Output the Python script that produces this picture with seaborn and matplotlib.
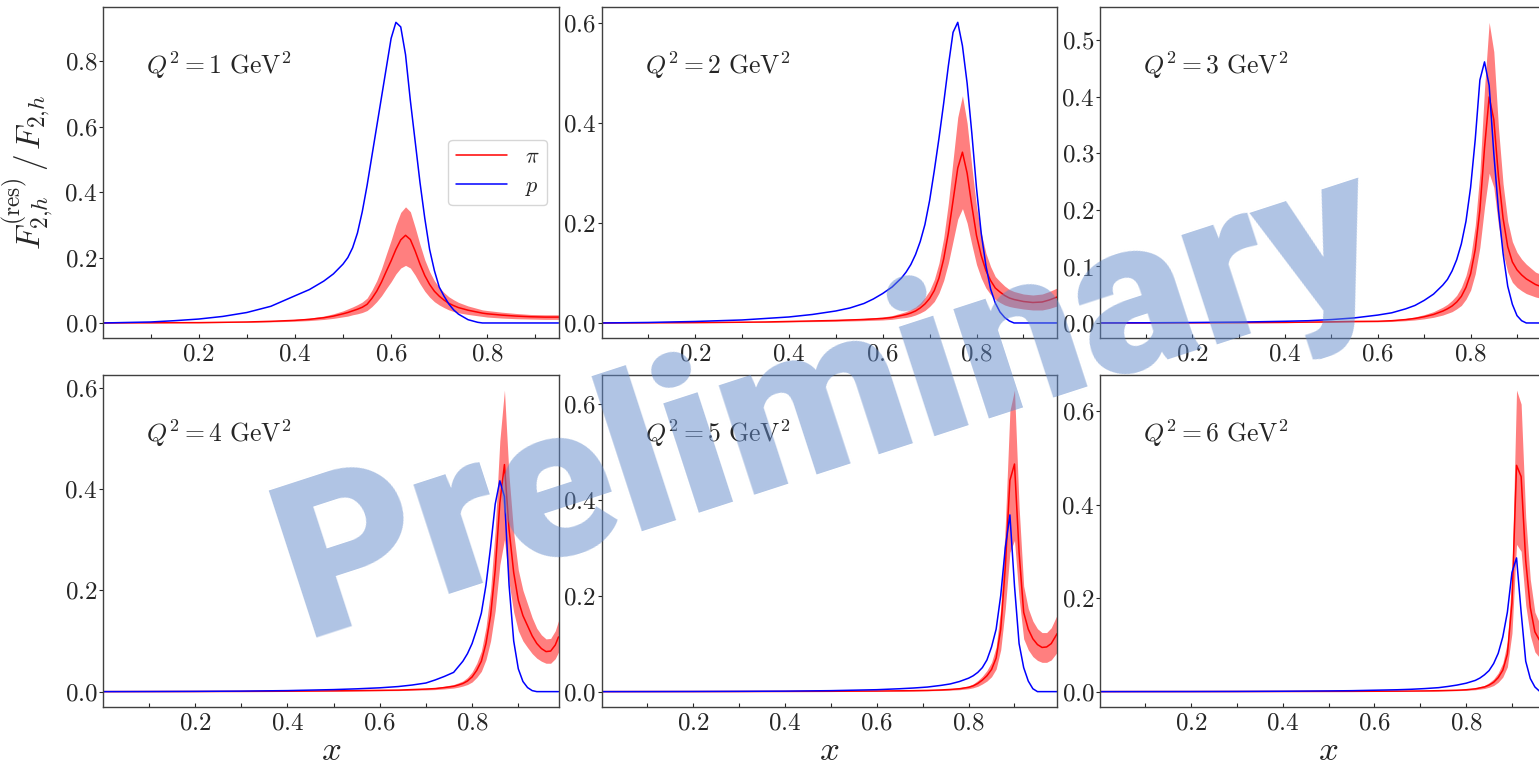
import numpy as np
import pandas as pd
import seaborn as sns
import matplotlib
matplotlib.use("Agg")
import matplotlib.pyplot as plt
from matplotlib.ticker import MultipleLocator

# ---------------- data ----------------
Q2_VALUES = [1, 2, 3, 4, 5, 6]

# Q^2 = 1
X1 = [0.001, 0.05, 0.1, 0.15, 0.2, 0.25, 0.3, 0.35, 0.4, 0.43, 0.46, 0.48,
      0.50, 0.51, 0.52, 0.53, 0.54, 0.55, 0.56, 0.57, 0.58, 0.59, 0.60, 0.61, 0.62, 0.63, 0.64, 0.65, 0.66, 0.67,
      0.68, 0.69, 0.70, 0.71, 0.72, 0.73, 0.74, 0.76, 0.78, 0.79, 0.80, 0.83, 0.86, 0.89, 0.92, 0.948]
P1 = [0.0, 0.0015, 0.003, 0.007, 0.012, 0.02, 0.032, 0.051, 0.083, 0.102, 0.128, 0.15,
      0.18, 0.2, 0.23, 0.275, 0.34, 0.42, 0.51, 0.6, 0.69, 0.78, 0.87, 0.919, 0.905, 0.82, 0.68, 0.555, 0.43, 0.32,
      0.225, 0.16, 0.11, 0.082, 0.058, 0.04, 0.027, 0.01, 0.002, 0.0, 0.0, 0.0, 0.0, 0.0, 0.0, 0.0]
PI1 = [0.0, 0.0003, 0.0005, 0.0008, 0.001, 0.002, 0.003, 0.005, 0.008, 0.011, 0.016, 0.021,
       0.028, 0.032, 0.037, 0.042, 0.048, 0.057, 0.075, 0.097, 0.125, 0.158, 0.19, 0.225, 0.254, 0.268, 0.255, 0.22, 0.18, 0.145,
       0.118, 0.097, 0.082, 0.07, 0.06, 0.053, 0.047, 0.039, 0.033, 0.03, 0.028, 0.024, 0.021, 0.019, 0.018, 0.018]
PI1_LO = [0.0, 0.0002, 0.0003, 0.0005, 0.0007, 0.0013, 0.002, 0.0033, 0.0053, 0.0073, 0.0107, 0.014,
          0.0187, 0.021, 0.025, 0.028, 0.032, 0.038, 0.05, 0.065, 0.083, 0.105, 0.126, 0.15, 0.168, 0.176, 0.168, 0.146, 0.12, 0.097,
          0.079, 0.065, 0.055, 0.047, 0.04, 0.035, 0.031, 0.026, 0.022, 0.02, 0.018, 0.015, 0.013, 0.012, 0.011, 0.011]
PI1_HI = [0.0, 0.0004, 0.0007, 0.0011, 0.0013, 0.0027, 0.004, 0.0067, 0.011, 0.015, 0.021, 0.028,
          0.037, 0.043, 0.049, 0.056, 0.064, 0.076, 0.1, 0.129, 0.166, 0.21, 0.253, 0.3, 0.338, 0.355, 0.34, 0.292, 0.24, 0.193,
          0.157, 0.129, 0.109, 0.093, 0.08, 0.071, 0.063, 0.052, 0.044, 0.04, 0.038, 0.033, 0.029, 0.026, 0.025, 0.025]

# Q^2 = 2
X2 = [0.001, 0.1, 0.2, 0.3, 0.35, 0.4, 0.45, 0.5, 0.53, 0.56, 0.58, 0.60, 0.62, 0.64,
      0.65, 0.66, 0.67, 0.68, 0.69, 0.70, 0.71, 0.72, 0.73, 0.74, 0.75, 0.76, 0.77, 0.78, 0.79, 0.80, 0.81, 0.82,
      0.83, 0.84, 0.85, 0.86, 0.87, 0.88, 0.90, 0.92, 0.94, 0.955, 0.972]
P2 = [0.0, 0.001, 0.003, 0.006, 0.009, 0.012, 0.017, 0.024, 0.03, 0.039, 0.048, 0.059, 0.072, 0.09,
      0.102, 0.117, 0.137, 0.163, 0.197, 0.245, 0.305, 0.37, 0.44, 0.515, 0.582, 0.602, 0.555, 0.48, 0.38, 0.27, 0.18, 0.115,
      0.068, 0.04, 0.022, 0.011, 0.004, 0.0, 0.0, 0.0, 0.0, 0.0, 0.0]
PI2 = [0.0, 0.0003, 0.0008, 0.0015, 0.002, 0.003, 0.004, 0.005, 0.006, 0.007, 0.008, 0.009, 0.011, 0.015,
       0.017, 0.02, 0.024, 0.03, 0.038, 0.049, 0.065, 0.09, 0.128, 0.18, 0.245, 0.31, 0.342, 0.3, 0.235, 0.175, 0.135, 0.105,
       0.085, 0.07, 0.062, 0.055, 0.05, 0.047, 0.043, 0.041, 0.042, 0.046, 0.052]
PI2_LO = [0.0, 0.0002, 0.0005, 0.001, 0.0013, 0.002, 0.0027, 0.0033, 0.004, 0.0047, 0.0053, 0.006, 0.0073, 0.01,
          0.011, 0.013, 0.016, 0.02, 0.025, 0.033, 0.043, 0.06, 0.085, 0.12, 0.164, 0.208, 0.229, 0.2, 0.157, 0.117, 0.09, 0.07,
          0.057, 0.047, 0.041, 0.036, 0.033, 0.031, 0.028, 0.026, 0.026, 0.029, 0.034]
PI2_HI = [0.0, 0.0004, 0.0011, 0.002, 0.0027, 0.004, 0.0053, 0.0067, 0.008, 0.0093, 0.0107, 0.012, 0.0147, 0.02,
          0.023, 0.027, 0.032, 0.04, 0.051, 0.065, 0.087, 0.12, 0.17, 0.24, 0.326, 0.412, 0.455, 0.4, 0.313, 0.233, 0.18, 0.14,
          0.113, 0.093, 0.083, 0.074, 0.067, 0.063, 0.058, 0.056, 0.058, 0.063, 0.07]

# Q^2 = 3
X3 = [0.001, 0.1, 0.2, 0.3, 0.4, 0.45, 0.5, 0.55, 0.6, 0.63, 0.66, 0.68, 0.70, 0.72, 0.74,
      0.75, 0.76, 0.77, 0.78, 0.79, 0.80, 0.81, 0.82, 0.83, 0.84, 0.85, 0.86, 0.87, 0.88, 0.89, 0.90, 0.91, 0.92,
      0.94, 0.96, 0.983]
P3 = [0.0, 0.0003, 0.0008, 0.0015, 0.003, 0.004, 0.006, 0.009, 0.014, 0.018, 0.025, 0.031, 0.04, 0.051, 0.067,
      0.077, 0.092, 0.112, 0.14, 0.18, 0.24, 0.325, 0.43, 0.462, 0.42, 0.3, 0.2, 0.123, 0.065, 0.033, 0.013, 0.004, 0.0,
      0.0, 0.0, 0.0]
PI3 = [0.0, 0.0001, 0.0003, 0.0006, 0.001, 0.0015, 0.002, 0.0027, 0.003, 0.004, 0.006, 0.008, 0.011, 0.015, 0.021,
       0.025, 0.03, 0.037, 0.047, 0.063, 0.087, 0.13, 0.2, 0.31, 0.40, 0.36, 0.26, 0.185, 0.135, 0.108, 0.094, 0.085, 0.078,
       0.068, 0.062, 0.058]
PI3_LO = [0.0, 0.0001, 0.0002, 0.0004, 0.0007, 0.001, 0.0013, 0.0018, 0.002, 0.0027, 0.004, 0.0053, 0.0073, 0.01, 0.014,
          0.017, 0.02, 0.025, 0.031, 0.042, 0.058, 0.087, 0.134, 0.205, 0.265, 0.24, 0.173, 0.124, 0.09, 0.072, 0.063, 0.057, 0.052,
          0.046, 0.042, 0.039]
PI3_HI = [0.0, 0.00013, 0.0004, 0.0008, 0.0013, 0.002, 0.0027, 0.0036, 0.004, 0.0053, 0.008, 0.0107, 0.0147, 0.02, 0.028,
          0.033, 0.04, 0.049, 0.063, 0.084, 0.116, 0.173, 0.266, 0.415, 0.532, 0.48, 0.346, 0.246, 0.18, 0.144, 0.125, 0.113, 0.104,
          0.09, 0.083, 0.077]

# Q^2 = 4
X4 = [0.001, 0.1, 0.2, 0.3, 0.4, 0.5, 0.55, 0.6, 0.64, 0.67, 0.70, 0.72, 0.74, 0.76,
      0.77, 0.78, 0.79, 0.80, 0.81, 0.82, 0.83, 0.84, 0.85, 0.86, 0.87, 0.88, 0.89, 0.90, 0.91, 0.92, 0.93, 0.94,
      0.95, 0.96, 0.97, 0.98, 0.987]
P4 = [0.0, 0.0002, 0.0005, 0.001, 0.002, 0.004, 0.0055, 0.0075, 0.01, 0.013, 0.017, 0.023, 0.03, 0.038,
      0.049, 0.06, 0.075, 0.095, 0.123, 0.155, 0.21, 0.285, 0.37, 0.416, 0.385, 0.21, 0.1, 0.045, 0.02, 0.008, 0.002, 0.0,
      0.0, 0.0, 0.0, 0.0, 0.0]
PI4 = [0.0, 0.0001, 0.0002, 0.0004, 0.0008, 0.0015, 0.002, 0.0025, 0.003, 0.004, 0.005, 0.006, 0.008, 0.0105,
       0.013, 0.016, 0.021, 0.029, 0.042, 0.06, 0.095, 0.15, 0.24, 0.372, 0.448, 0.32, 0.235, 0.18, 0.15, 0.13, 0.11, 0.095,
       0.085, 0.079, 0.08, 0.092, 0.108]
PI4_LO = [0.0, 0.0001, 0.00013, 0.0003, 0.0005, 0.001, 0.0013, 0.0017, 0.002, 0.0027, 0.0033, 0.004, 0.0053, 0.007,
          0.0087, 0.011, 0.014, 0.019, 0.028, 0.04, 0.063, 0.1, 0.16, 0.25, 0.30, 0.215, 0.157, 0.12, 0.1, 0.087, 0.075, 0.066,
          0.06, 0.056, 0.056, 0.065, 0.078]
PI4_HI = [0.0, 0.00013, 0.0003, 0.0005, 0.0011, 0.002, 0.0027, 0.0033, 0.004, 0.0053, 0.0067, 0.008, 0.0107, 0.014,
          0.0173, 0.021, 0.028, 0.039, 0.056, 0.08, 0.127, 0.2, 0.32, 0.495, 0.595, 0.425, 0.313, 0.24, 0.2, 0.173, 0.146, 0.125,
          0.112, 0.104, 0.105, 0.12, 0.14]

# Q^2 = 5
X5 = [0.001, 0.1, 0.2, 0.3, 0.4, 0.5, 0.55, 0.6, 0.65, 0.68, 0.71, 0.74, 0.76, 0.78,
      0.80, 0.81, 0.82, 0.83, 0.84, 0.85, 0.86, 0.87, 0.88, 0.89, 0.90, 0.91, 0.92, 0.93, 0.94, 0.95, 0.96, 0.97, 0.98,
      0.993]
P5 = [0.0, 0.0001, 0.0003, 0.0006, 0.001, 0.002, 0.003, 0.004, 0.006, 0.0075, 0.0095, 0.013, 0.016, 0.021,
      0.028, 0.033, 0.04, 0.05, 0.066, 0.093, 0.13, 0.2, 0.3, 0.368, 0.22, 0.1, 0.05, 0.022, 0.006, 0.0, 0.0, 0.0, 0.0,
      0.0]
PI5 = [0.0, 0.0001, 0.0001, 0.0002, 0.0004, 0.0007, 0.001, 0.0012, 0.0017, 0.002, 0.0025, 0.0035, 0.0045, 0.006,
       0.009, 0.012, 0.017, 0.024, 0.033, 0.046, 0.07, 0.13, 0.26, 0.44, 0.474, 0.29, 0.165, 0.13, 0.11, 0.098, 0.092, 0.093, 0.1,
       0.121]
PI5_LO = [0.0, 0.0001, 0.0001, 0.00013, 0.0003, 0.0005, 0.0007, 0.0008, 0.0011, 0.0013, 0.0017, 0.0023, 0.003, 0.004,
          0.006, 0.008, 0.011, 0.016, 0.022, 0.031, 0.047, 0.087, 0.173, 0.29, 0.315, 0.195, 0.11, 0.087, 0.073, 0.065, 0.061, 0.061, 0.066,
          0.082]
PI5_HI = [0.0, 0.00013, 0.00013, 0.0003, 0.0005, 0.0009, 0.0013, 0.0016, 0.0023, 0.0027, 0.0033, 0.0047, 0.006, 0.008,
          0.012, 0.016, 0.023, 0.032, 0.044, 0.061, 0.093, 0.173, 0.347, 0.585, 0.628, 0.385, 0.22, 0.173, 0.147, 0.131, 0.123, 0.123, 0.133,
          0.16]

# Q^2 = 6
X6 = [0.001, 0.1, 0.2, 0.3, 0.4, 0.5, 0.55, 0.6, 0.65, 0.68, 0.71, 0.74, 0.76, 0.78, 0.80,
      0.82, 0.83, 0.84, 0.85, 0.86, 0.87, 0.88, 0.89, 0.90, 0.91, 0.92, 0.93, 0.94, 0.95, 0.96, 0.97, 0.98,
      0.995]
P6 = [0.0, 0.0001, 0.0002, 0.0004, 0.0008, 0.0015, 0.002, 0.003, 0.004, 0.005, 0.0065, 0.0085, 0.011, 0.014, 0.018,
      0.024, 0.029, 0.036, 0.045, 0.06, 0.082, 0.117, 0.17, 0.255, 0.286, 0.17, 0.065, 0.028, 0.01, 0.001, 0.0, 0.0,
      0.0]
PI6 = [0.0, 0.0001, 0.0001, 0.0002, 0.0003, 0.0005, 0.0006, 0.0008, 0.001, 0.0012, 0.0015, 0.002, 0.0025, 0.003, 0.004,
       0.006, 0.008, 0.01, 0.014, 0.02, 0.03, 0.046, 0.08, 0.19, 0.484, 0.46, 0.28, 0.18, 0.128, 0.11, 0.1, 0.1,
       0.12]
PI6_LO = [0.0, 0.0001, 0.0001, 0.00013, 0.0002, 0.0003, 0.0004, 0.0005, 0.0007, 0.0008, 0.001, 0.0013, 0.0017, 0.002, 0.0027,
          0.004, 0.0053, 0.0067, 0.0093, 0.013, 0.02, 0.031, 0.053, 0.125, 0.315, 0.3, 0.185, 0.12, 0.085, 0.073, 0.066, 0.066,
          0.08]
PI6_HI = [0.0, 0.00013, 0.00013, 0.0003, 0.0004, 0.0007, 0.0008, 0.0011, 0.0013, 0.0016, 0.002, 0.0027, 0.0033, 0.004, 0.0053,
          0.008, 0.0107, 0.0133, 0.019, 0.027, 0.04, 0.061, 0.106, 0.25, 0.645, 0.615, 0.373, 0.24, 0.17, 0.147, 0.133, 0.133,
          0.16]

Y_TICK_STEP = [0.2, 0.2, 0.1, 0.2, 0.2, 0.2]
LEGEND_LABELS = [r"$\pi$", r"$p$"]
Y_LABEL = r"$F_{2{,}h}^{(\mathrm{res})}\,/\,F_{2{,}h}$"
X_LABEL = r"$x$"
WATERMARK = "Preliminary"

PANELS = [
    (X1, P1, PI1, PI1_LO, PI1_HI),
    (X2, P2, PI2, PI2_LO, PI2_HI),
    (X3, P3, PI3, PI3_LO, PI3_HI),
    (X4, P4, PI4, PI4_LO, PI4_HI),
    (X5, P5, PI5, PI5_LO, PI5_HI),
    (X6, P6, PI6, PI6_LO, PI6_HI),
]

# ---------------- style ----------------
sns.set_style("ticks")
plt.rcParams.update({
    "font.family": "serif",
    "font.serif": ["cmr10"],
    "mathtext.fontset": "cm",
    "axes.formatter.use_mathtext": True,
    "axes.unicode_minus": False,
})

W, H = 1539, 765
fig = plt.figure(figsize=(W / 100, H / 100), dpi=100)
fig.patch.set_facecolor("white")

col_left = [103.0, 601.7, 1100.0]
ax_w = 455.5
row_tb = [(7.3, 338.0), (375.0, 706.7)]

for i, (q2, (x, p, pi, lo, hi)) in enumerate(zip(Q2_VALUES, PANELS)):
    r, c = divmod(i, 3)
    top, bot = row_tb[r]
    ax = fig.add_axes([col_left[c] / W, 1 - bot / H, ax_w / W, (bot - top) / H])
    df = pd.DataFrame({"x": x, "p": p, "pi": pi, "lo": lo, "hi": hi})

    ax.fill_between(df["x"], df["lo"], df["hi"], color="red", alpha=0.5, lw=0)
    sns.lineplot(data=df, x="x", y="pi", ax=ax, color="red", lw=1.1, legend=False,
                 label=LEGEND_LABELS[0], estimator=None)
    sns.lineplot(data=df, x="x", y="p", ax=ax, color="blue", lw=1.1, legend=False,
                 label=LEGEND_LABELS[1], estimator=None)

    ax.set_xlim(x[0], x[-1])
    ax.margins(y=0.05)
    ax.autoscale(axis="y")

    ax.xaxis.set_major_locator(MultipleLocator(0.2))
    ax.xaxis.set_minor_locator(MultipleLocator(0.1))
    ax.yaxis.set_major_locator(MultipleLocator(Y_TICK_STEP[i]))
    ax.tick_params(axis="x", which="both", direction="in", length=3.0, width=0.8,
                   labelsize=18, pad=4, bottom=True, top=False)
    ax.tick_params(axis="y", which="major", direction="out", length=3.0, width=0.8,
                   labelsize=18, pad=1, left=True, right=False)
    for sp in ax.spines.values():
        sp.set_linewidth(1.0)
        sp.set_color("0.25")

    ax.set_xlabel("")
    ax.set_ylabel("")
    ax.text(0.095, 0.825, rf"$Q^2 = {q2}\ \mathrm{{GeV}}^2$", transform=ax.transAxes,
            fontsize=18.5, ha="left", va="center")

    if i == 0:
        ax.set_ylabel(Y_LABEL, fontsize=24)
        ax.yaxis.set_label_coords(-0.105, 0.5)
        ax.legend(loc="center right", fontsize=16, frameon=True, borderpad=0.35,
                  labelspacing=0.4, borderaxespad=0.5, handlelength=2.3)
    if r == 1:
        ax.set_xlabel(X_LABEL, fontsize=25)
        ax.xaxis.set_label_coords(0.5, -0.085)

fig.text(830 / W, 1 - 405 / H, WATERMARK, rotation=18, fontsize=157, fontweight="black",
         family=["Roboto", "DejaVu Sans"], color="#6189c9", alpha=0.5,
         ha="center", va="center", zorder=10)

fig.savefig("out.png", dpi=100)
